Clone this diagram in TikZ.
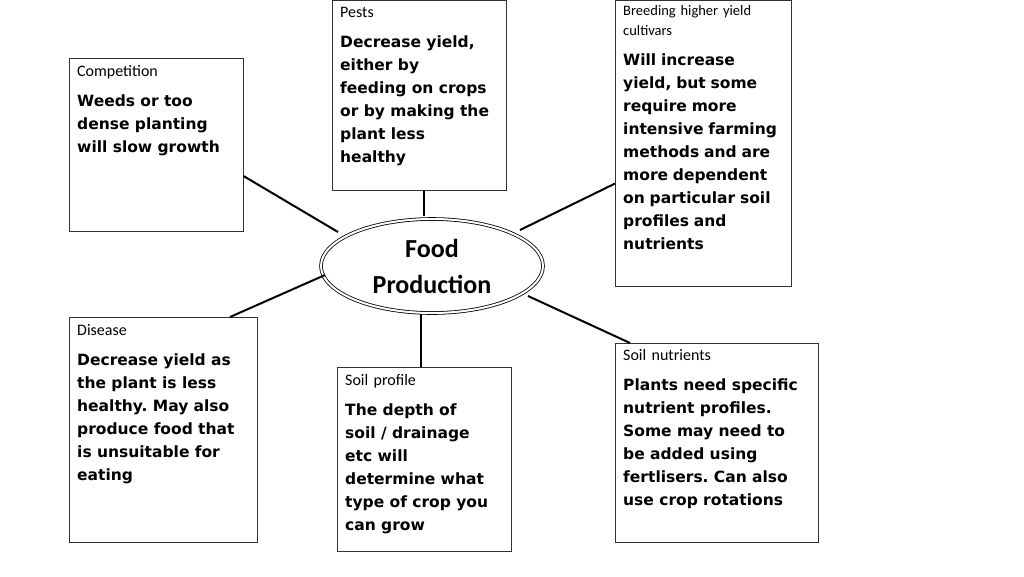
\documentclass[tikz,border=0pt]{standalone}
\usepackage{fontspec}
\setmainfont{Carlito}
\newfontfamily\bodyf{DejaVu Sans}
\usetikzlibrary{shapes.geometric,calc}
\tikzset{
 box/.style={draw=black!80,line width=0.8pt,anchor=north west,inner sep=0pt},
 txt/.style={anchor=north west,inner sep=0pt,align=left,font=\fontsize{16}{19}\selectfont},
 link/.style={line width=2pt}
}
\newcommand{\bd}[1]{\par\vspace{7pt}{\bodyf\bfseries\frenchspacing\fontsize{15.5}{23}\selectfont #1\par}}
\begin{document}
\begin{tikzpicture}[x=1pt,y=-1pt]
\useasboundingbox (0,0) rectangle (1024,576);
\node[box,minimum width=174pt,minimum height=190pt] (pests) at (332,0) {};
\node[txt,text width=165pt] at (340,7) {Pests\bd{Decrease yield,\\either by\\feeding on crops\\or by making the\\plant less\\healthy}};
\node[box,minimum width=176pt,minimum height=286pt] (breed) at (615,0) {};
\node[txt,text width=168pt,font=\fontsize{14.5}{20}\selectfont] at (623,5) {Breeding higher yield\\cultivars\bd{Will increase\\yield, but some\\require more\\intensive farming\\methods and are\\more dependent\\on particular soil\\profiles and\\nutrients}};
\node[box,minimum width=174pt,minimum height=173pt] (comp) at (69,58) {};
\node[txt,text width=165pt] at (77,65) {Competition\bd{Weeds or too\\dense planting\\will slow growth}};
\node[box,minimum width=188pt,minimum height=225pt] (dis) at (69,317) {};
\node[txt,text width=180pt] at (77,324) {Disease\bd{Decrease yield as\\the plant is less\\healthy. May also\\produce food that\\is unsuitable for\\eating}};
\node[box,minimum width=174pt,minimum height=184pt] (soilp) at (337,367) {};
\node[txt,text width=165pt] at (345,374) {Soil profile\bd{The depth of\\soil / drainage\\etc will\\determine what\\type of crop you\\can grow}};
\node[box,minimum width=203pt,minimum height=199pt] (soiln) at (615,343) {};
\node[txt,text width=195pt] at (623,349) {Soil nutrients\bd{Plants need specific\\nutrient profiles.\\Some may need to\\be added using\\fertlisers. Can also\\use crop rotations}};
\node[ellipse,draw,double,double distance=2pt,line width=0.8pt,minimum width=222pt,minimum height=94pt,align=center,font=\bfseries\fontsize{26}{36}\selectfont] (food) at (432,266) {Food\\Production};
\draw[link] ($(comp.north east)!0.68!(comp.south east)$) -- (338,232);
\draw[link] (424,190) -- (424,216);
\draw[link] ($(breed.north west)!0.64!(breed.south west)$) -- (520,230);
\draw[link] (230,317) -- (325,275);
\draw[link] (421,367) -- (421,314);
\draw[link] (630,343) -- (528,296);
\end{tikzpicture}
\end{document}
